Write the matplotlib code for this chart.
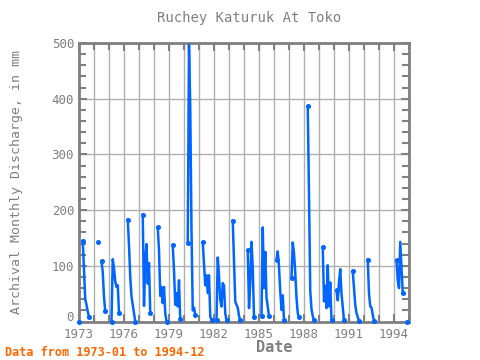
import numpy as np
import matplotlib
matplotlib.use("Agg")
import matplotlib.pyplot as plt
import matplotlib.transforms as mtransforms
from matplotlib.ticker import MultipleLocator, FixedLocator

N = np.nan
title = "Ruchey Katuruk At Toko"
ylabel = "Archival Monthly Discharge, in mm"
xlabel = "Date"
note = "Data from 1973-01 to 1994-12"
start_year = 1973

# Monthly discharge (Jan..Dec), one row per year 1973..1994
q1973 = [0, N, N, 145, 94, 40, 30, 18, 8, N, N, N]
q1974 = [N, N, N, 143, N, N, 108, 89, 44, 18, N, N]
q1975 = [N, N, 0, 112, 96, 72, 62, 65, 16, N, N, N]
q1976 = [N, N, N, 183, 137, 80, 45, 30, 15, 0, N, N]
q1977 = [N, N, N, 192, 28, 110, 139, 68, 105, 15, N, N]
q1978 = [N, N, N, 169, 128, 46, 62, 33, 62, 15, 0, N]
q1979 = [N, N, N, 137, 92, 30, 51, 27, 74, 4, N, N]
q1980 = [N, N, N, 141, 497, 386, 164, 20, 25, 12, N, N]
q1981 = [N, N, N, 142, 104, 65, 83, 51, 83, 9, 3, N]
q1982 = [N, N, 2, 115, 82, 39, 27, 69, 65, 15, 2, N]
q1983 = [N, N, N, 181, 108, 36, 30, 25, 10, 2, N, N]
q1984 = [N, N, N, 128, 24, 69, 143, 98, 8, N, N, N]
q1985 = [N, N, 10, 169, 60, 125, 43, 27, 9, N, N, N]
q1986 = [N, N, 110, 126, 98, 54, 21, 47, 3, N, N, N]
q1987 = [N, N, 78, 142, 123, 88, 42, 15, 8, N, N, N]
q1988 = [N, N, N, 386, 228, 55, 22, 10, 2, N, N, N]
q1989 = [N, N, N, 133, 36, 64, 24, 101, 27, 70, 2, N]
q1990 = [N, N, 56, 38, 71, 94, 50, 25, 2, N, N, N]
q1991 = [N, N, N, 90, 61, 30, 15, 8, 1, N, N, N]
q1992 = [N, N, N, 111, 50, 27, 25, 12, 1, N, N, N]
q1993 = [N, N, N, N, N, N, N, N, N, N, N, N]
q1994 = [N, N, 110, 74, 60, 143, 98, 51, N, N, 0, N]

years = [q1973, q1974, q1975, q1976, q1977, q1978, q1979, q1980, q1981, q1982, q1983,
         q1984, q1985, q1986, q1987, q1988, q1989, q1990, q1991, q1992, q1993, q1994]
xtick_years = [1973, 1976, 1979, 1982, 1985, 1988, 1991, 1994]
ytick_vals = [0, 100, 200, 300, 400, 500]

vals = np.array([v for y in years for v in y], dtype=float)
t = start_year + np.arange(len(vals)) / 12.0

fig = plt.figure(figsize=(4.8, 3.6), dpi=100)
ax = fig.add_axes([79/480, 1 - 321.5/360, 330/480, 278.5/360])

blue = "#0066ff"
gray = "#808080"
ax.plot(t, vals, color=blue, lw=1.8, zorder=3, clip_on=False)
isnan = np.isnan(vals)
prev_nan = np.r_[True, isnan[:-1]]
next_nan = np.r_[isnan[1:], True]
mk = (~isnan) & (prev_nan | next_nan)
ax.plot(t[mk], vals[mk], ls="none", marker="o", ms=2.6, color=blue, zorder=4, clip_on=False)

ax.set_xlim(1973, 1995)
ax.set_ylim(0, 500)
ax.xaxis.set_major_locator(FixedLocator(xtick_years))
ax.xaxis.set_minor_locator(MultipleLocator(1))
ax.yaxis.set_major_locator(FixedLocator(ytick_vals))
ax.yaxis.set_minor_locator(MultipleLocator(20))
ax.grid(True, which="both", axis="x", color="#b0b0b0", lw=1)
ax.grid(True, which="major", axis="y", color="#b0b0b0", lw=1)
ax.set_axisbelow(True)

mono = "DejaVu Sans Mono"
ax.tick_params(axis="both", which="both", direction="in", colors=gray,
               top=True, right=True, labelsize=9, width=1.5)
ax.tick_params(axis="both", which="major", length=6)
ax.tick_params(axis="both", which="minor", length=5)
ax.tick_params(axis="x", which="major", pad=5)
for lab in ax.get_xticklabels() + ax.get_yticklabels():
    lab.set_fontfamily(mono)
    lab.set_color(gray)
for s in ax.spines.values():
    s.set_color(gray)
    s.set_linewidth(2)

# lift the "0" label slightly, as in the reference
zero_lab = ax.yaxis.get_major_ticks()[0].label1
zero_lab.set_transform(zero_lab.get_transform() +
                       mtransforms.ScaledTranslation(0, 4/72, fig.dpi_scale_trans))

fig.text(0.5 + 9/480, 1 - 18/360, title, ha="center", va="center",
         fontsize=10, color=gray, family=mono)
fig.text(17/480, 1 - 182/360, ylabel, ha="center", va="center", rotation=90,
         fontsize=9.5, color=gray, family=mono)
fig.text(274/480, 1 - 347/360, xlabel, ha="center", va="center",
         fontsize=11, color=gray, family=mono, weight="bold")
fig.text(5/480, 1 - 352/360, note, ha="left", va="center",
         fontsize=8.5, color="#ff6600", family=mono, weight="bold")

fig.savefig("out.png", dpi=100)
